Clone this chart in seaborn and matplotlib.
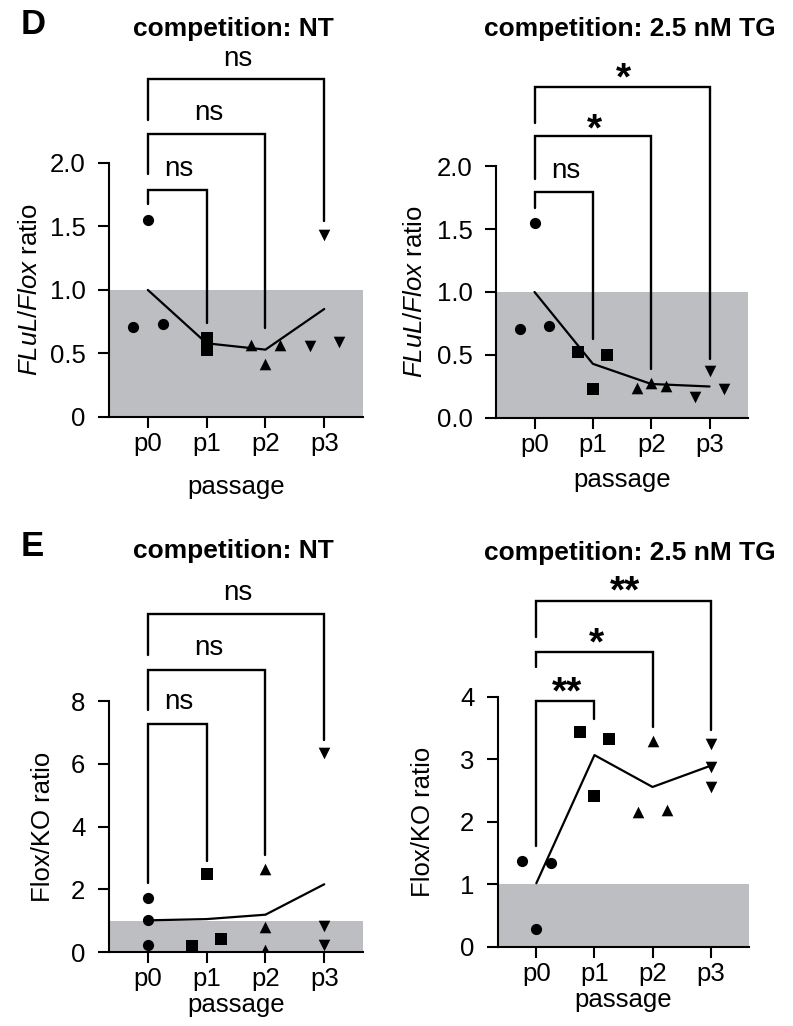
import matplotlib
matplotlib.use("Agg")
import matplotlib.pyplot as plt
import seaborn as sns

sns.set_style("ticks")
plt.rcParams["font.family"] = ["Liberation Sans", "DejaVu Sans"]
plt.rcParams["mathtext.fontset"] = "custom"
plt.rcParams["mathtext.it"] = "Liberation Sans:italic"
plt.rcParams["mathtext.rm"] = "Liberation Sans"
for k in ["text.color", "axes.labelcolor", "xtick.color", "ytick.color", "axes.edgecolor"]:
    plt.rcParams[k] = "black"

# data
passages = ["p0", "p1", "p2", "p3"]
markers = ["o", "s", "^", "v"]
marker_sizes = [65, 80, 70, 70]

# panel D, NT
d_nt_vals = [[0.71, 1.55, 0.73], [0.62, 0.59, 0.53], [0.57, 0.42, 0.57], [0.56, 1.43, 0.59]]
d_nt_offs = [[-0.25, 0, 0.25], [0, 0, 0], [-0.25, 0, 0.25], [-0.25, 0, 0.25]]
d_nt_line = [1.0, 0.58, 0.53, 0.85]
d_nt_brackets = [(1, 1.79, 1.68, 0.74, "ns", 1.95),
                 (2, 2.23, 1.91, 0.70, "ns", 2.39),
                 (3, 2.66, 2.34, 1.54, "ns", 2.82)]

# panel D, 2.5 nM TG
d_tg_vals = [[0.71, 1.55, 0.73], [0.52, 0.23, 0.50], [0.24, 0.28, 0.25], [0.17, 0.37, 0.23]]
d_tg_offs = [[-0.25, 0, 0.25]] * 4
d_tg_line = [1.0, 0.43, 0.27, 0.25]
d_tg_brackets = [(1, 1.79, 1.67, 0.63, "ns", 1.96),
                 (2, 2.24, 1.90, 0.39, "*", 2.35),
                 (3, 2.63, 2.34, 0.47, "*", 2.76)]

# panel E, NT
e_nt_vals = [[1.72, 1.03, 0.23], [0.18, 2.48, 0.42], [2.64, 0.80, 0.07], [6.36, 0.84, 0.23]]
e_nt_offs = [[0, 0, 0], [-0.25, 0, 0.25], [0, 0, 0], [0, 0, 0]]
e_nt_line = [1.01, 1.05, 1.19, 2.16]
e_nt_brackets = [(1, 7.27, 2.2, 2.89, "ns", 7.98),
                 (2, 8.99, 7.71, 3.1, "ns", 9.68),
                 (3, 10.76, 9.46, 6.76, "ns", 11.43)]

# panel E, 2.5 nM TG
e_tg_vals = [[1.37, 0.28, 1.35], [3.44, 2.41, 3.32], [2.16, 3.30, 2.19], [3.24, 2.88, 2.56]]
e_tg_offs = [[-0.25, 0, 0.25], [-0.25, 0, 0.25], [-0.25, 0, 0.25], [0, 0, 0]]
e_tg_line = [1.02, 3.07, 2.56, 2.90]
e_tg_brackets = [(1, 3.93, 1.61, 3.65, "**", 4.19),
                 (2, 4.72, 4.48, 3.52, "*", 4.98),
                 (3, 5.54, 4.96, 3.47, "**", 5.81)]

GRAY = "#bdbec2"
FS = 18.5

fig = plt.figure(figsize=(7.93, 10.26), dpi=100)


def draw_panel(rect, vals, offs, line, brackets, ylim, yticks, yticklabels,
               ylabel, ylabel_x, xlabel_y):
    ax = fig.add_axes(rect)
    ax.axhspan(0, 1, color=GRAY, zorder=0, lw=0)
    for i in range(4):
        xs = [i + o for o in offs[i]]
        sns.scatterplot(x=xs, y=vals[i], marker=markers[i], s=marker_sizes[i],
                        color="black", edgecolor="black", linewidth=0, ax=ax, zorder=3)
    sns.lineplot(x=list(range(4)), y=line, color="black", lw=1.6, ax=ax, zorder=2)

    # significance brackets, drawn above the axes
    yspan = ylim[1] - ylim[0]
    for x2, yh, yl, yr, lab, ly in brackets:
        ax.plot([0, 0, x2, x2], [yl, yh, yh, yr], color="black", lw=1.7,
                clip_on=False, solid_joinstyle="miter")
        if lab == "ns":
            ax.text(x2 / 2 + 0.03, ly, lab, ha="center", va="center", fontsize=20)
        else:
            ax.text(x2 / 2 + 0.03, ly - 0.035 * yspan, lab, ha="center", va="center",
                    fontsize=28, fontweight="bold")

    ax.set_xlim(-0.66, 3.66)
    ax.set_ylim(*ylim)
    ax.set_xticks(range(4))
    ax.set_xticklabels(passages)
    ax.set_yticks(yticks)
    ax.set_yticklabels(yticklabels)
    ax.tick_params(axis="both", labelsize=FS, length=8, width=1.5, color="black")
    ax.tick_params(axis="y", pad=9)
    ax.tick_params(axis="x", pad=3)
    sns.despine(ax=ax)
    for s in ["left", "bottom"]:
        ax.spines[s].set_linewidth(1.5)
    ax.set_ylabel(ylabel, fontsize=FS, va="center")
    ax.yaxis.set_label_coords(ylabel_x, 0.5)
    ax.set_xlabel("passage", fontsize=FS, va="center")
    ax.xaxis.set_label_coords(0.5, xlabel_y)
    return ax


d_ylabel = r"$\mathit{FLuL/Flox}$ ratio"
draw_panel([0.1375, 0.5936, 0.3203, 0.2476], d_nt_vals, d_nt_offs, d_nt_line,
           d_nt_brackets, (0, 2.0), [0, 0.5, 1.0, 1.5, 2.0],
           ["0", "0.5", "1.0", "1.5", "2.0"], d_ylabel, -0.31, -0.276)
draw_panel([0.6255, 0.5926, 0.3178, 0.2456], d_tg_vals, d_tg_offs, d_tg_line,
           d_tg_brackets, (0, 2.0), [0, 0.5, 1.0, 1.5, 2.0],
           ["0.0", "0.5", "1.0", "1.5", "2.0"], d_ylabel, -0.32, -0.246)
draw_panel([0.1375, 0.0721, 0.3203, 0.2446], e_nt_vals, e_nt_offs, e_nt_line,
           e_nt_brackets, (0, 8), [0, 2, 4, 6, 8],
           ["0", "2", "4", "6", "8"], "Flox/KO ratio", -0.26, -0.211)
draw_panel([0.628, 0.0770, 0.3165, 0.2437], e_tg_vals, e_tg_offs, e_tg_line,
           e_tg_brackets, (0, 4), [0, 1, 2, 3, 4],
           ["0", "1", "2", "3", "4"], "Flox/KO ratio", -0.30, -0.212)

# titles and panel letters
title_kw = dict(ha="center", va="center", fontsize=19, fontweight="bold")
fig.text(233 / 793, 1 - 29 / 1026, "competition: NT", **title_kw)
fig.text(630 / 793, 1 - 29 / 1026, "competition: 2.5 nM TG", **title_kw)
fig.text(233 / 793, 1 - 551 / 1026, "competition: NT", **title_kw)
fig.text(630 / 793, 1 - 553 / 1026, "competition: 2.5 nM TG", **title_kw)
fig.text(33 / 793, 1 - 25 / 1026, "D", ha="center", va="center",
         fontsize=25, fontweight="bold")
fig.text(32 / 793, 1 - 547 / 1026, "E", ha="center", va="center",
         fontsize=25, fontweight="bold")

fig.savefig("out.png", dpi=100)
